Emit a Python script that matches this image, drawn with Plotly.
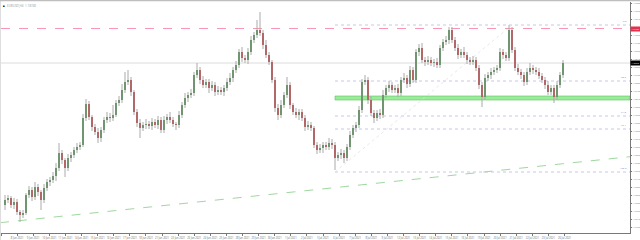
import plotly.graph_objects as go
import numpy as np

# ---------------- data ----------------
FIRST_OPEN = 1.1590
CLOSE = [
1.1600,1.1604,1.1590,1.1596,1.1576,1.1570,1.1574,1.1610,1.1620,1.1606,
1.1626,1.1616,1.1600,1.1624,1.1636,1.1640,1.1648,1.1664,1.1694,1.1680,
1.1664,1.1684,1.1690,1.1700,1.1706,1.1710,1.1764,1.1792,1.1766,1.1746,
1.1736,1.1724,1.1740,1.1760,1.1766,1.1764,1.1770,1.1794,1.1800,1.1820,
1.1836,1.1840,1.1816,1.1776,1.1754,1.1744,1.1750,1.1752,1.1748,1.1756,
1.1750,1.1760,1.1740,1.1760,1.1766,1.1760,1.1752,1.1750,1.1770,1.1790,
1.1804,1.1810,1.1814,1.1850,1.1860,1.1840,1.1830,1.1836,1.1824,1.1830,
1.1816,1.1820,1.1816,1.1824,1.1836,1.1844,1.1860,1.1870,1.1896,1.1884,
1.1880,1.1896,1.1920,1.1930,1.1940,1.1934,1.1910,1.1890,1.1876,1.1840,
1.1784,1.1770,1.1790,1.1810,1.1830,1.1790,1.1776,1.1770,1.1776,1.1764,
1.1746,1.1750,1.1744,1.1710,1.1700,1.1704,1.1710,1.1706,1.1714,1.1710,
1.1684,1.1690,1.1694,1.1684,1.1706,1.1730,1.1744,1.1750,1.1780,1.1836,
1.1840,1.1800,1.1774,1.1764,1.1774,1.1770,1.1810,1.1824,1.1830,1.1820,
1.1824,1.1814,1.1840,1.1844,1.1832,1.1860,1.1840,1.1896,1.1904,1.1880,
1.1876,1.1880,1.1874,1.1876,1.1870,1.1904,1.1916,1.1920,1.1940,1.1920,
1.1904,1.1890,1.1896,1.1890,1.1880,1.1876,1.1880,1.1864,1.1830,1.1806,
1.1844,1.1850,1.1856,1.1860,1.1864,1.1896,1.1890,1.1884,1.1940,1.1900,
1.1864,1.1856,1.1850,1.1836,1.1856,1.1864,1.1860,1.1856,1.1848,1.1840,
1.1830,1.1816,1.1824,1.1806,1.1830,1.1850,1.1874]

# upper / lower wick lengths in 0.0001 units
UPPER_WICK = [
10,6,4,8,6,4,6,4,8,6, 10,6,4,8,6,6,8,10,20,6, 4,8,6,6,8,6,8,10,6,4,
6,8,6,6,10,8,20,6,8,12, 20,20,6,4,6,8,6,10,6,8, 6,8,6,8,6,10,6,4,8,6,
10,6,8,6,14,6,8,6,6,8, 6,8,6,6,8,10,6,8,6,10, 6,8,8,6,20,36,6,10,6,4,
6,8,10,6,16,6,4,8,6,6, 6,8,6,4,6,8,6,6,10,8, 6,6,8,6,6,8,6,6,8,6,
10,6,8,6,6,8,10,6,8,6, 6,8,6,10,6,8,6,6,8,10, 6,8,6,6,8,6,6,8,6,6,
6,8,6,10,6,6,8,6,6,6, 8,6,8,6,6,8,6,6,10,6, 6,8,6,6,8,10,6,6,8,6,
6,8,6,6,8,6,6]
LOWER_WICK = [
10,6,6,8,6,14,6,4,6,8, 6,8,20,6,6,8,6,10,6,8, 18,6,8,6,6,6,4,6,6,8,
6,10,8,6,6,8,6,4,6,6, 6,6,8,6,8,20,6,8,6,8, 6,8,6,6,8,6,6,10,6,6,
6,8,6,6,6,8,6,6,10,6, 8,6,6,8,6,6,8,6,6,8, 6,8,6,6,6,6,8,6,6,6,
8,10,6,6,6,8,6,6,10,6, 8,6,6,6,8,6,10,6,6,8, 24,6,8,10,6,6,6,8,6,6,
6,8,6,10,6,8,6,6,8,6, 6,8,6,6,8,6,6,6,8,6, 8,6,6,8,6,6,6,6,8,6,
6,8,6,6,8,6,6,6,8,20, 6,6,8,6,6,6,8,6,6,6, 6,6,8,8,6,6,8,6,6,6,
8,6,6,12,6,6,6]

TICK_LABELS = [
"7 Jun 2021","8 Jun 2021","9 Jun 2021","10 Jun 2021","11 Jun 2021","14 Jun 2021",
"15 Jun 2021","16 Jun 2021","17 Jun 2021","18 Jun 2021","21 Jun 2021","22 Jun 2021",
"23 Jun 2021","24 Jun 2021","25 Jun 2021","28 Jun 2021","29 Jun 2021","30 Jun 2021",
"1 Jul 2021","2 Jul 2021","5 Jul 2021","6 Jul 2021","7 Jul 2021","8 Jul 2021",
"9 Jul 2021","12 Jul 2021","13 Jul 2021","14 Jul 2021","15 Jul 2021","16 Jul 2021",
"19 Jul 2021","20 Jul 2021","21 Jul 2021","22 Jul 2021","23 Jul 2021","26 Jul 2021"]

RESIST_LEVEL = 1.1943           # pink dashed line
SUPPORT_ZONE = [1.1800, 1.1808] # green zone
FIB_START_IDX = 110
FIB_LEVELS = [1.1950, 1.1838, 1.1768, 1.1742, 1.1656]
FIB_NAMES = ["0.0", "38.2", "61.8", "76.4", "100.0"]
TREND_IDX = [-1.67, 208.33]
TREND_PRICE = [1.15546, 1.16866]
FIB_DIAG_IDX = [110, 169]
FIB_DIAG_PRICE = [1.1656, 1.1950]

# ---------------- build ----------------
n = len(CLOSE)
idx = np.arange(n)
close = np.array(CLOSE)
opn = np.concatenate([[FIRST_OPEN], close[:-1]])
high = np.maximum(opn, close) + np.array(UPPER_WICK) * 1e-4
low = np.minimum(opn, close) - np.array(LOWER_WICK) * 1e-4

GREEN = "rgb(56,128,56)"
RED = "rgb(186,38,38)"
up = close >= opn
body_base = np.minimum(opn, close)
body_h = np.maximum(np.abs(close - opn), 0.00012)
colors = [GREEN if u else RED for u in up]

fig = go.Figure()

wx, wy = [], []
for i in range(n):
    wx += [i, i, None]
    wy += [low[i], high[i], None]

x0, x1 = -1.333, 208.333
y0, y1 = 1.1534, 1.1996

shapes = []
shapes.append(dict(type="rect", xref="x", yref="y", x0=FIB_START_IDX, x1=x1,
                   y0=SUPPORT_ZONE[0], y1=SUPPORT_ZONE[1],
                   fillcolor="rgba(120,230,120,0.75)", line=dict(color="rgb(90,200,90)", width=0.6), layer="below"))
for lv in FIB_LEVELS:
    shapes.append(dict(type="line", xref="x", yref="y", x0=FIB_START_IDX, x1=x1, y0=lv, y1=lv,
                       line=dict(color="rgb(185,185,232)", width=0.8, dash="dot"), layer="below"))
shapes.append(dict(type="line", xref="x", yref="y", x0=FIB_DIAG_IDX[0], x1=FIB_DIAG_IDX[1],
                   y0=FIB_DIAG_PRICE[0], y1=FIB_DIAG_PRICE[1],
                   line=dict(color="rgb(222,222,222)", width=0.7, dash="dot"), layer="below"))
shapes.append(dict(type="line", xref="x", yref="y", x0=x0, x1=x1, y0=RESIST_LEVEL, y1=RESIST_LEVEL,
                   line=dict(color="rgb(248,150,180)", width=1, dash="dash"), layer="below"))
shapes.append(dict(type="line", xref="x", yref="y", x0=x0, x1=x1, y0=CLOSE[-1], y1=CLOSE[-1],
                   line=dict(color="rgb(220,220,220)", width=1), layer="below"))
shapes.append(dict(type="line", xref="x", yref="y", x0=TREND_IDX[0], x1=TREND_IDX[1],
                   y0=TREND_PRICE[0], y1=TREND_PRICE[1],
                   line=dict(color="rgb(160,215,160)", width=1, dash="dash"), layer="below"))
shapes.append(dict(type="line", xref="paper", yref="paper", x0=-0.003, x1=1.02, y0=1.008, y1=1.008,
                   line=dict(color="rgb(190,190,190)", width=2)))
shapes.append(dict(type="line", xref="paper", yref="paper", x0=-0.0016, x1=-0.0016, y0=-0.05, y1=1.01,
                   line=dict(color="rgb(190,190,190)", width=1)))

fig.add_trace(go.Scatter(x=wx, y=wy, mode="lines", line=dict(color="rgb(170,170,170)", width=1),
                         hoverinfo="skip", showlegend=False))
fig.add_trace(go.Bar(x=idx, y=body_h, base=body_base, marker=dict(color=colors, line=dict(width=0)),
                     width=0.62, showlegend=False))

ann = []
for lv, nm in zip(FIB_LEVELS, FIB_NAMES):
    ann.append(dict(xref="paper", yref="y", x=0.998, y=lv, text=nm, showarrow=False,
                    xanchor="right", yanchor="bottom", font=dict(size=2.5, color="rgb(130,130,210)")))
ann.append(dict(xref="paper", yref="y", x=1.0, y=RESIST_LEVEL, text="1.19430", showarrow=False,
                xanchor="left", yanchor="middle", bgcolor="rgb(225,50,80)", borderpad=0.5,
                font=dict(size=2, color="white")))
ann.append(dict(xref="paper", yref="y", x=1.0, y=CLOSE[-1], text="%.5f" % CLOSE[-1], showarrow=False,
                xanchor="left", yanchor="middle", bgcolor="black", borderpad=0.5,
                font=dict(size=2, color="white")))
ann.append(dict(xref="paper", yref="paper", x=0.006, y=0.998, text="EURUSD,H4  1.18740", showarrow=False,
                xanchor="left", yanchor="top", font=dict(size=3, color="rgb(150,150,150)")))
ann.append(dict(xref="paper", yref="paper", x=0.0, y=0.998, text="■", showarrow=False,
                xanchor="left", yanchor="top", font=dict(size=3, color="black")))

tickvals = [(16.1 * k - 4) / 3 for k in range(len(TICK_LABELS))]

fig.update_layout(
    width=640, height=240,
    margin=dict(l=1, r=10, t=2, b=7, autoexpand=False),
    paper_bgcolor="white", plot_bgcolor="white",
    bargap=0, shapes=shapes, annotations=ann,
    xaxis=dict(range=[x0, x1], showgrid=False, zeroline=False, tickvals=tickvals, ticktext=TICK_LABELS,
               tickangle=0, automargin=False,
               tickfont=dict(size=2.6, color="rgb(110,110,110)"), ticks="outside", ticklen=2,
               tickcolor="rgb(120,120,120)", showline=True, linecolor="rgb(120,120,120)", linewidth=1,
               fixedrange=True),
    yaxis=dict(range=[y0, y1], side="right", showgrid=False, zeroline=False, tick0=1.1993, dtick=0.0016,
               automargin=False,
               tickformat=".5f", tickfont=dict(size=2, color="rgb(110,110,110)"), ticks="outside",
               ticklen=1, tickcolor="rgb(120,120,120)", showline=True, linecolor="rgb(120,120,120)",
               linewidth=1, fixedrange=True),
)

fig.write_html("out.html")
